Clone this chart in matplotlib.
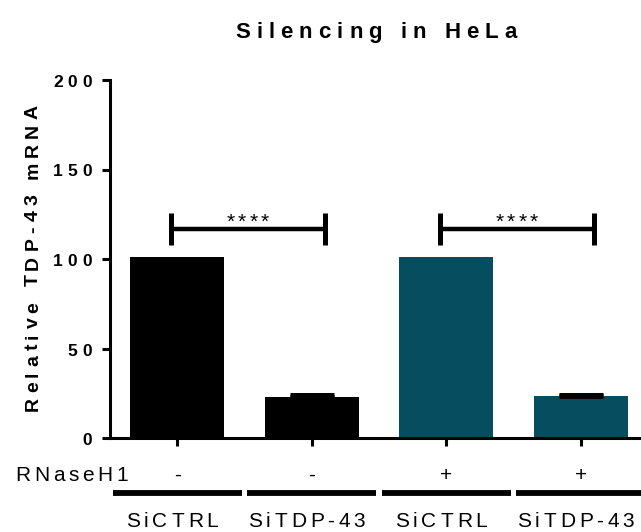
import matplotlib
matplotlib.use('Agg')
import matplotlib.pyplot as plt
import matplotlib.transforms as mtransforms
from matplotlib.font_manager import FontProperties
from matplotlib.textpath import TextToPath
import numpy as np

# data
groups = ['SiCTRL', 'SiTDP-43', 'SiCTRL', 'SiTDP-43']
rnase = ['-', '-', '+', '+']
means = [101, 22.9, 101, 23.6]
errs = [0, 1.4, 0, 0.7]
colors = ['black', 'black', '#064e5f', '#064e5f']
comparisons = [(0, 1, '****'), (2, 3, '****')]
yticks = [0, 50, 100, 150, 200]
bracket_y = 116.8

W, H = 641, 532
fig = plt.figure(figsize=(W / 100, H / 100), dpi=100)
ax = fig.add_axes([110 / W, (H - 438) / H, (648 - 110) / W, (438 - 80) / H])

ttp = TextToPath()
pix = mtransforms.IdentityTransform()


def spaced_text(x, y, s, size, track, weight='normal', ha='center', rotation=0):
    # letter-spaced text, x/y in pixels from the top-left corner, y = baseline
    prop = FontProperties(family='Liberation Sans', size=size, weight=weight)
    ref = ttp.get_text_width_height_descent('||', prop, ismath=False)[0]
    widths = [(ttp.get_text_width_height_descent('|' + c + '|', prop, ismath=False)[0] - ref) * 100 / 72
              for c in s]
    total = sum(widths) + track * (len(s) - 1)
    pos = -{'center': total / 2, 'right': total, 'left': 0}[ha]
    ang = np.deg2rad(rotation)
    for c, w in zip(s, widths):
        fig.text(x + pos * np.cos(ang), (H - y) + pos * np.sin(ang), c, fontproperties=prop,
                 rotation=rotation, rotation_mode='anchor', ha='left', va='baseline',
                 transform=pix)
        pos += w + track


x = np.arange(len(means))
ax.bar(x, means, width=0.7, color=colors)
for xi, m, e in zip(x, means, errs):
    if e > 0:
        ax.errorbar(xi, m, yerr=[[0], [e]], fmt='none', ecolor='black',
                    elinewidth=3, capsize=16, capthick=3.6)

ax.set_xlim(-0.5, 3.5)
ax.set_ylim(0, 200)
ax.set_yticks(yticks)
ax.set_xticks(x)
ax.set_xticklabels([])
ax.set_yticklabels([])
for s in ['top', 'right']:
    ax.spines[s].set_visible(False)
for s in ['left', 'bottom']:
    ax.spines[s].set_linewidth(2.2)
ax.tick_params(width=2.2, length=6)

# y tick labels, spaced like the rest of the text
for t in yticks:
    py = H - ax.transData.transform((0, t))[1]
    spaced_text(92, py + 7, str(t), 12.5, 5, weight='bold', ha='right')

# significance brackets
for i, j, txt in comparisons:
    x0, x1 = i - 0.05, j + 0.1
    ax.plot([x0, x1], [bracket_y, bracket_y], color='black', lw=3.2, solid_capstyle='butt')
    for xe in (x0, x1):
        ax.plot([xe, xe], [bracket_y - 9, bracket_y + 9], color='black', lw=3.6, solid_capstyle='butt')
    px, py = ax.transData.transform(((x0 + x1) / 2, bracket_y))
    spaced_text(px, H - py - 1, txt, 15, 3.3)

# title and y label
spaced_text(376, 38, 'Silencing in HeLa', 16, 6, weight='bold')
spaced_text(38, 258, 'Relative TDP-43 mRNA', 14, 5, weight='bold', rotation=90)

# treatment rows below the axis
spaced_text(15, 481, 'RNaseH1', 15, 3.8, ha='left')
blend = mtransforms.blended_transform_factory(ax.transData, pix)
for xi, sign, g in zip(x, rnase, groups):
    px = ax.transData.transform((xi, 0))[0]
    spaced_text(px, 481, sign, 15, 0)
    ax.plot([xi - 0.48, xi + 0.48], [H - 493, H - 493], color='black', lw=4.2,
            transform=blend, clip_on=False, solid_capstyle='butt')
    spaced_text(px - 5, 527, g, 15, 3.8)

fig.savefig('out.png', dpi=100)
